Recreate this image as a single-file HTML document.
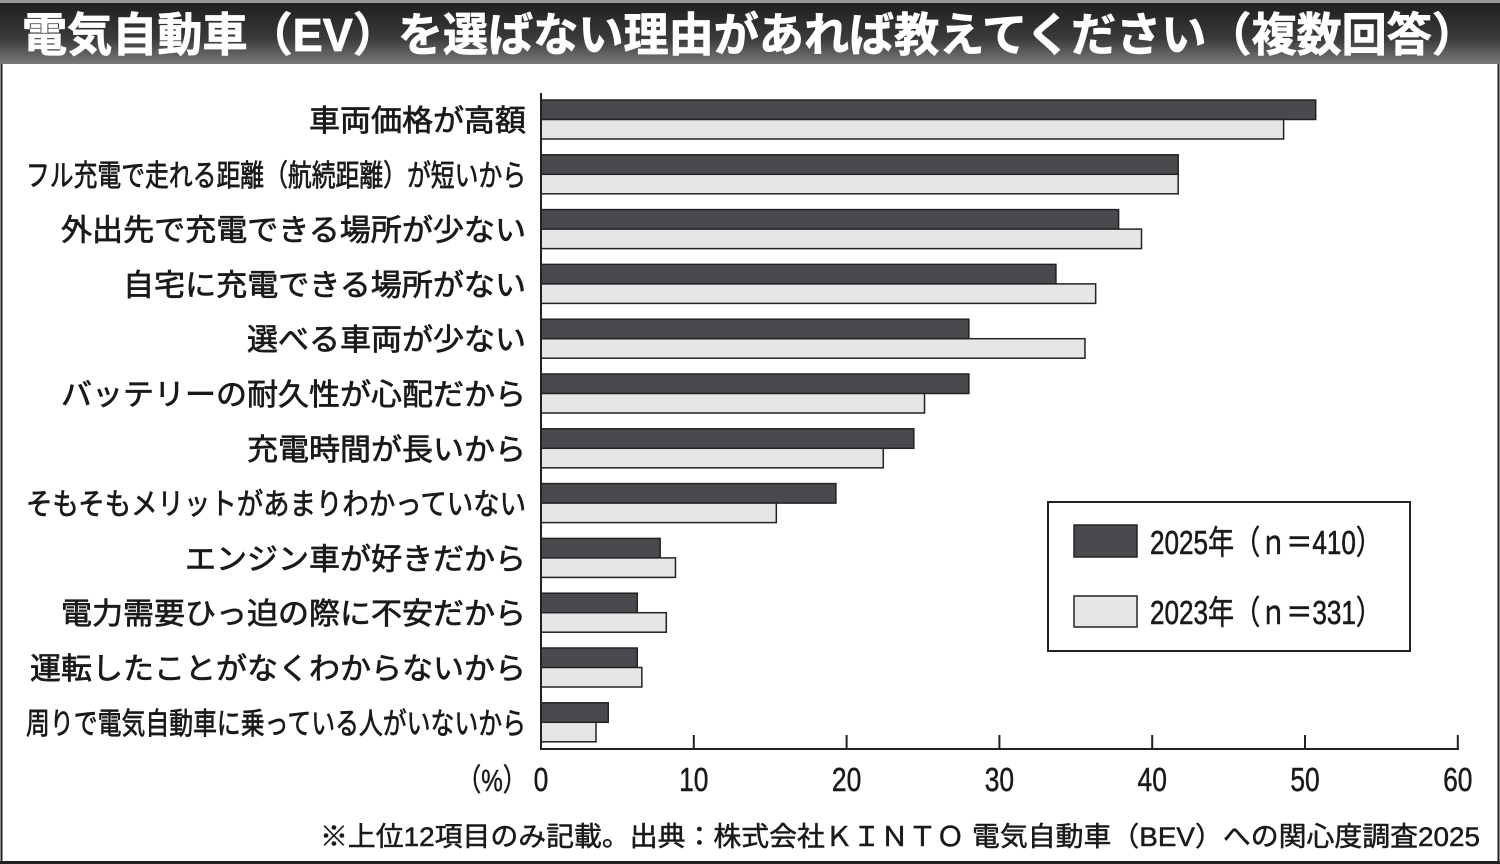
<!DOCTYPE html>
<html><head><meta charset="utf-8"><style>
html,body{margin:0;padding:0;background:#fff;}
svg{display:block;}
text{font-family:"Liberation Sans","Noto Sans CJK JP",sans-serif;}
</style></head><body>
<svg width="1500" height="864" viewBox="0 0 1500 864" xmlns="http://www.w3.org/2000/svg">
<defs>
<linearGradient id="tg" x1="0" y1="0" x2="0" y2="1">
<stop offset="0" stop-color="#1e1e1e"/><stop offset="0.6" stop-color="#3a3a3a"/><stop offset="1" stop-color="#7a7a7a"/>
</linearGradient>
</defs>
<rect x="0" y="0" width="1500" height="864" fill="#fff"/>
<rect x="0" y="0" width="1500" height="64" fill="url(#tg)"/>
<rect x="0" y="0" width="1500" height="3" fill="#9a9a9a"/>
<text x="22" y="51" font-size="46" font-weight="bold" fill="#fff" stroke="#fff" stroke-width="0.8" textLength="1455" lengthAdjust="spacingAndGlyphs">電気自動車（EV）を選ばない理由があれば教えてください（複数回答）</text>
<line x1="1.5" y1="64" x2="1.5" y2="864" stroke="#222" stroke-width="2"/>
<line x1="1498.5" y1="64" x2="1498.5" y2="864" stroke="#222" stroke-width="2"/>
<line x1="0" y1="862.5" x2="1500" y2="862.5" stroke="#222" stroke-width="3"/>
<g id="bars" stroke="#222" stroke-width="1.5"></g>
<line x1="541" y1="93" x2="541" y2="749" stroke="#222" stroke-width="2"/>
<line x1="540" y1="749" x2="1459" y2="749" stroke="#222" stroke-width="2"/>
<g id="ticks" stroke="#222" stroke-width="2"></g>
<g id="labels" font-size="30" fill="#1a1a1a" stroke="#1a1a1a" stroke-width="0.7" text-anchor="end"></g>
<g font-size="33" fill="#1a1a1a" stroke="#1a1a1a" stroke-width="0.5" text-anchor="middle" id="tl"></g>
<text x="527" y="791" font-size="31" fill="#1a1a1a" stroke="#1a1a1a" stroke-width="0.5" text-anchor="end" textLength="70" lengthAdjust="spacingAndGlyphs">（%）</text>
<rect x="1048" y="502" width="362" height="149" fill="#fff" stroke="#222" stroke-width="2"/>
<rect x="1074" y="525" width="63" height="32" fill="#4a494d" stroke="#222" stroke-width="1.5"/>
<rect x="1074" y="596" width="63" height="31" fill="#e6e6e8" stroke="#222" stroke-width="1.5"/>
<text x="1150" y="554" font-size="33" fill="#1a1a1a" stroke="#1a1a1a" stroke-width="0.6" textLength="232" lengthAdjust="spacingAndGlyphs">2025年（ｎ＝410）</text>
<text x="1150" y="624" font-size="33" fill="#1a1a1a" stroke="#1a1a1a" stroke-width="0.6" textLength="232" lengthAdjust="spacingAndGlyphs">2023年（ｎ＝331）</text>
<text x="1480" y="846" font-size="27" fill="#1a1a1a" stroke="#1a1a1a" stroke-width="0.5" text-anchor="end" textLength="1160" lengthAdjust="spacingAndGlyphs">※上位12項目のみ記載。出典：株式会社ＫＩＮＴＯ 電気自動車（BEV）への関心度調査2025</text>
<script>
const NS="http://www.w3.org/2000/svg";
const d=[["車両価格が高額",50.7,48.6],["フル充電で走れる距離（航続距離）が短いから",41.7,41.7],["外出先で充電できる場所が少ない",37.8,39.3],["自宅に充電できる場所がない",33.7,36.3],["選べる車両が少ない",28.0,35.6],["バッテリーの耐久性が心配だから",28.0,25.1],["充電時間が長いから",24.4,22.4],["そもそもメリットがあまりわかっていない",19.3,15.4],["エンジン車が好きだから",7.8,8.8],["電力需要ひっ迫の際に不安だから",6.3,8.2],["運転したことがなくわからないから",6.3,6.6],["周りで電気自動車に乗っている人がいないから",4.4,3.6]];
const sx=v=>541+v*15.28;
const bars=document.getElementById("bars"),lab=document.getElementById("labels");
d.forEach((r,i)=>{const y=100+i*54.8;
 let a=document.createElementNS(NS,"rect");a.setAttribute("x",541);a.setAttribute("y",y);a.setAttribute("width",sx(r[1])-541);a.setAttribute("height",19.5);a.setAttribute("fill","#4a494d");bars.appendChild(a);
 let b=document.createElementNS(NS,"rect");b.setAttribute("x",541);b.setAttribute("y",y+19.5);b.setAttribute("width",sx(r[2])-541);b.setAttribute("height",19.5);b.setAttribute("fill","#e6e6e8");bars.appendChild(b);
 let t=document.createElementNS(NS,"text");t.setAttribute("x",526);t.setAttribute("y",y+31);t.textContent=r[0];
 t.setAttribute("textLength",Math.min(r[0].length*31,500));t.setAttribute("lengthAdjust","spacingAndGlyphs");
 lab.appendChild(t);});
const tk=document.getElementById("ticks"),tl=document.getElementById("tl");
for(let v=0;v<=60;v+=10){const x=sx(v);
 if(v>0){let l=document.createElementNS(NS,"line");l.setAttribute("x1",x);l.setAttribute("x2",x);l.setAttribute("y1",735);l.setAttribute("y2",749);tk.appendChild(l);}
 let t=document.createElementNS(NS,"text");t.setAttribute("x",x);t.setAttribute("y",791);t.setAttribute("transform","translate("+x+",0) scale(0.8,1) translate("+(-x)+",0)");t.textContent=v;tl.appendChild(t);}
</script>
</svg>
</body></html>
